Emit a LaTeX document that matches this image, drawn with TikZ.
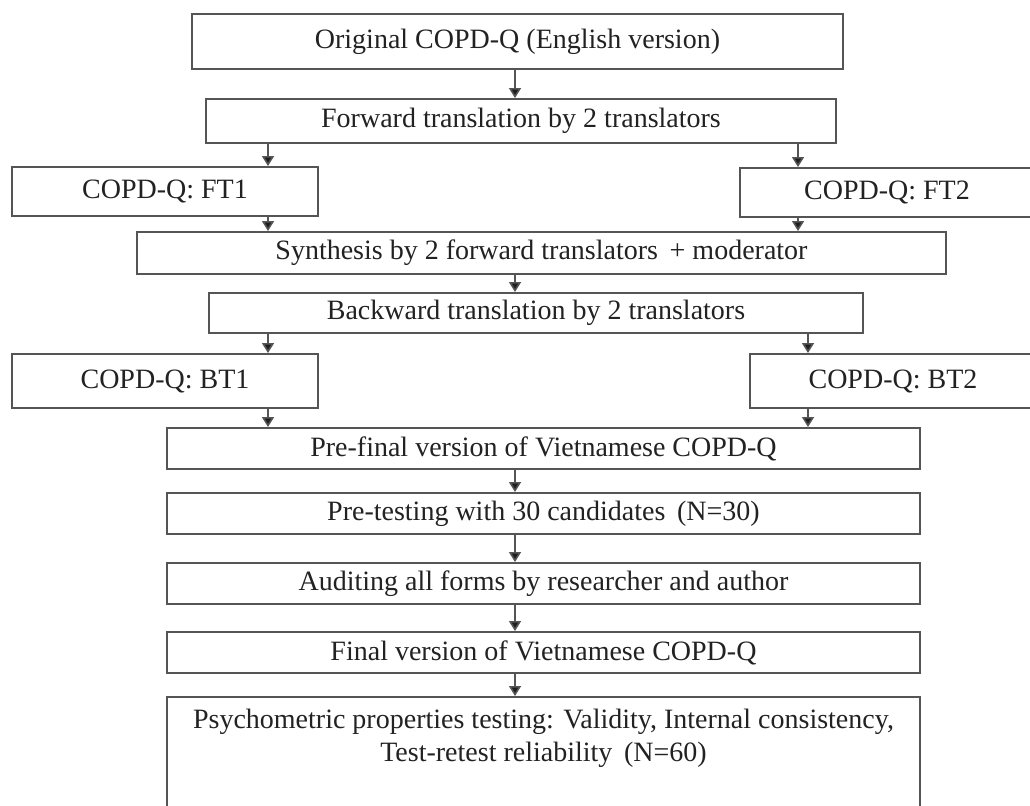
\documentclass[tikz,border=0pt]{standalone}
\usepackage{fontspec}
\setmainfont{Liberation Serif}
\usepackage{xcolor}
\usepackage{tikz}
\usetikzlibrary{
  arrows.meta,
  positioning,
  calc
}
\definecolor{FlowLine}{HTML}{555555}
\definecolor{FlowText}{HTML}{222222}
\definecolor{FlowHead}{HTML}{1E1E1E}

\tikzset{
  stepbox/.style={draw=FlowLine,line width=1pt,fill=white,inner sep=0pt,
                  text=FlowText,font=\fontsize{14}{16.5}\selectfont},
  flowarrow/.style={draw=FlowLine,line width=0.8pt,
                    -{Triangle[width=6pt,length=5pt,fill=FlowHead]}}
}

\begin{document}
\begin{tikzpicture}[x=0.5pt,y=-0.5pt]
        \useasboundingbox (0,0) rectangle (1030,805);
        \clip (0,0) rectangle (1030,805);
        \fill[white] (0,0) rectangle (1030,805);
        % arrow columns
        \coordinate (colL) at (268,0);
        \coordinate (colM) at (515,0);
        \coordinate (colR) at (798,0);
        \coordinate (colRb) at (808,0);
        % boxes
        \node[stepbox,minimum width=325.5pt,minimum height=27.5pt] (orig) at (517.5,41.5)
          {Original COPD-Q (English version)};
        \node[stepbox,minimum width=315pt,minimum height=22pt] (fwd) at (521,121)
          {Forward translation by 2 translators};
        \node[stepbox,minimum width=153pt,minimum height=24.5pt] (ftone) at (165,191.5)
          {COPD-Q: FT1};
        \node[stepbox,minimum width=147pt,minimum height=24.5pt] (fttwo) at (887,192.5)
          {COPD-Q: FT2};
        \node[stepbox,minimum width=404.5pt,minimum height=21pt] (synth) at (541.5,253)
          {Synthesis by 2 forward translators \,+ moderator};
        \node[stepbox,minimum width=327pt,minimum height=20pt] (bwd) at (536,313)
          {Backward translation by 2 translators};
        \node[stepbox,minimum width=153pt,minimum height=27pt] (btone) at (165,381)
          {COPD-Q: BT1};
        \node[stepbox,minimum width=143pt,minimum height=27pt] (bttwo) at (893,381)
          {COPD-Q: BT2};
        \node[stepbox,minimum width=376.5pt,minimum height=20.5pt] (prefinal) at (543.5,448.5)
          {Pre-final version of Vietnamese COPD-Q};
        \node[stepbox,minimum width=376.5pt,minimum height=20.5pt] (pretest) at (543.5,513.5)
          {Pre-testing with 30 candidates \,(N=30)};
        \node[stepbox,minimum width=376.5pt,minimum height=20.5pt] (audit) at (543.5,583.5)
          {Auditing all forms by researcher and author};
        \node[stepbox,minimum width=376.5pt,minimum height=20.5pt] (final) at (543.5,652.5)
          {Final version of Vietnamese COPD-Q};
        \node[stepbox,minimum width=376.5pt,minimum height=70pt] (psych) at (543.5,767)
          {};
        \node[text=FlowText,font=\fontsize{14}{16.5}\selectfont,align=center,inner sep=0pt]
          (psychtext) at (543.5,738.5)
          {Psychometric properties testing: Validity, Internal consistency,\\
           Test-retest reliability \,(N=60)};
        % arrows
        \draw[flowarrow] (orig.south -| colM) -- (fwd.north -| colM);
        \draw[flowarrow] (fwd.south -| colL) -- (ftone.north -| colL);
        \draw[flowarrow] (fwd.south -| colR) -- (fttwo.north -| colR);
        \draw[flowarrow] (ftone.south -| colL) -- (synth.north -| colL);
        \draw[flowarrow] (fttwo.south -| colR) -- (synth.north -| colR);
        \draw[flowarrow] (synth.south -| colM) -- (bwd.north -| colM);
        \draw[flowarrow] (bwd.south -| colL) -- (btone.north -| colL);
        \draw[flowarrow] (bwd.south -| colRb) -- (bttwo.north -| colRb);
        \draw[flowarrow] (btone.south -| colL) -- (prefinal.north -| colL);
        \draw[flowarrow] (bttwo.south -| colRb) -- (prefinal.north -| colRb);
        \draw[flowarrow] (prefinal.south -| colM) -- (pretest.north -| colM);
        \draw[flowarrow] (pretest.south -| colM) -- (audit.north -| colM);
        \draw[flowarrow] (audit.south -| colM) -- (final.north -| colM);
        \draw[flowarrow] (final.south -| colM) -- (psych.north -| colM);
      \end{tikzpicture}
\end{document}
